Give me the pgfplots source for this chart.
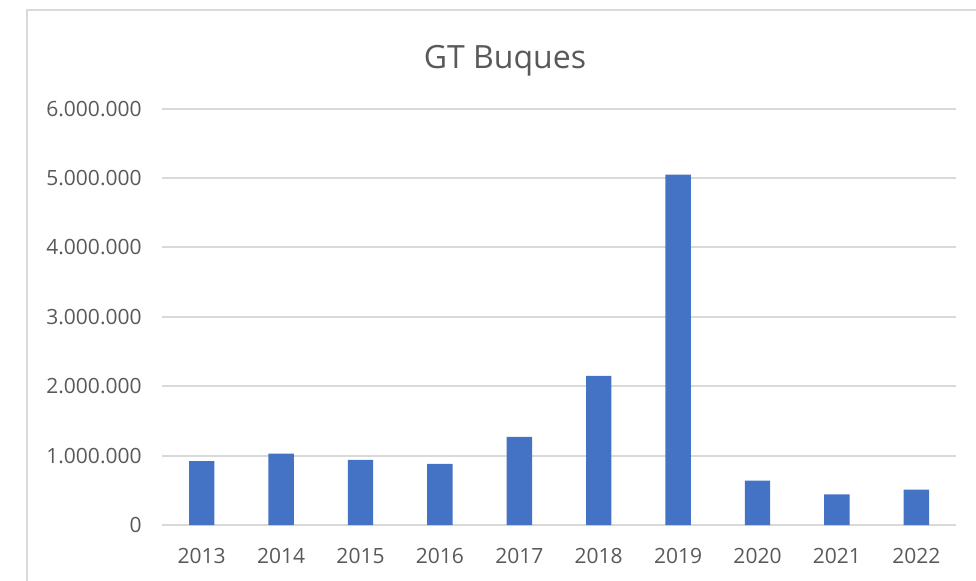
\documentclass[border=0pt]{standalone}
\usepackage{fontspec}
\setmainfont{Open Sans}
\usepackage{pgfplots}
\pgfplotsset{compat=1.18}
\definecolor{barblue}{RGB}{68,114,196}
\definecolor{gridgray}{RGB}{217,217,217}
\definecolor{txtgray}{RGB}{89,89,89}

\begin{document}
\begin{tikzpicture}
% 1 px of the reference = 0.5pt
\useasboundingbox (0,0) rectangle (488pt,290pt);
\draw[gridgray, line width=0.8pt] (13.5pt,-10pt) rectangle (520pt,285pt);
\node[txtgray, font=\fontsize{16}{19}\selectfont] at (252.5pt,259.5pt) {GT Buques};
\begin{axis}[
  at={(81pt,27.5pt)}, anchor=south west,
  scale only axis,
  width=397pt, height=208.2pt,
  ybar, bar width=12.7pt,
  xmin=-0.5, xmax=9.5,
  ymin=0, ymax=6000000,
  xtick={0,...,9},
  xticklabels={2013,2014,2015,2016,2017,2018,2019,2020,2021,2022},
  ytick={0,1000000,2000000,3000000,4000000,5000000,6000000},
  yticklabels={0,1.000.000,2.000.000,3.000.000,4.000.000,5.000.000,6.000.000},
  scaled y ticks=false,
  axis line style={draw=none},
  tick style={draw=none},
  ymajorgrids,
  grid style={gridgray, line width=1pt},
  ticklabel style={font=\fontsize{10.5}{12}\selectfont, text=txtgray, inner sep=0pt},
  yticklabel style={anchor=east, xshift=-10pt},
  xticklabel style={anchor=base, yshift=-15pt},
]
\addplot[fill=barblue, draw=none] coordinates {
  (0,920000) (1,1030000) (2,940000) (3,880000) (4,1270000)
  (5,2150000) (6,5050000) (7,640000) (8,440000) (9,510000)
};
\end{axis}
\end{tikzpicture}
\end{document}
